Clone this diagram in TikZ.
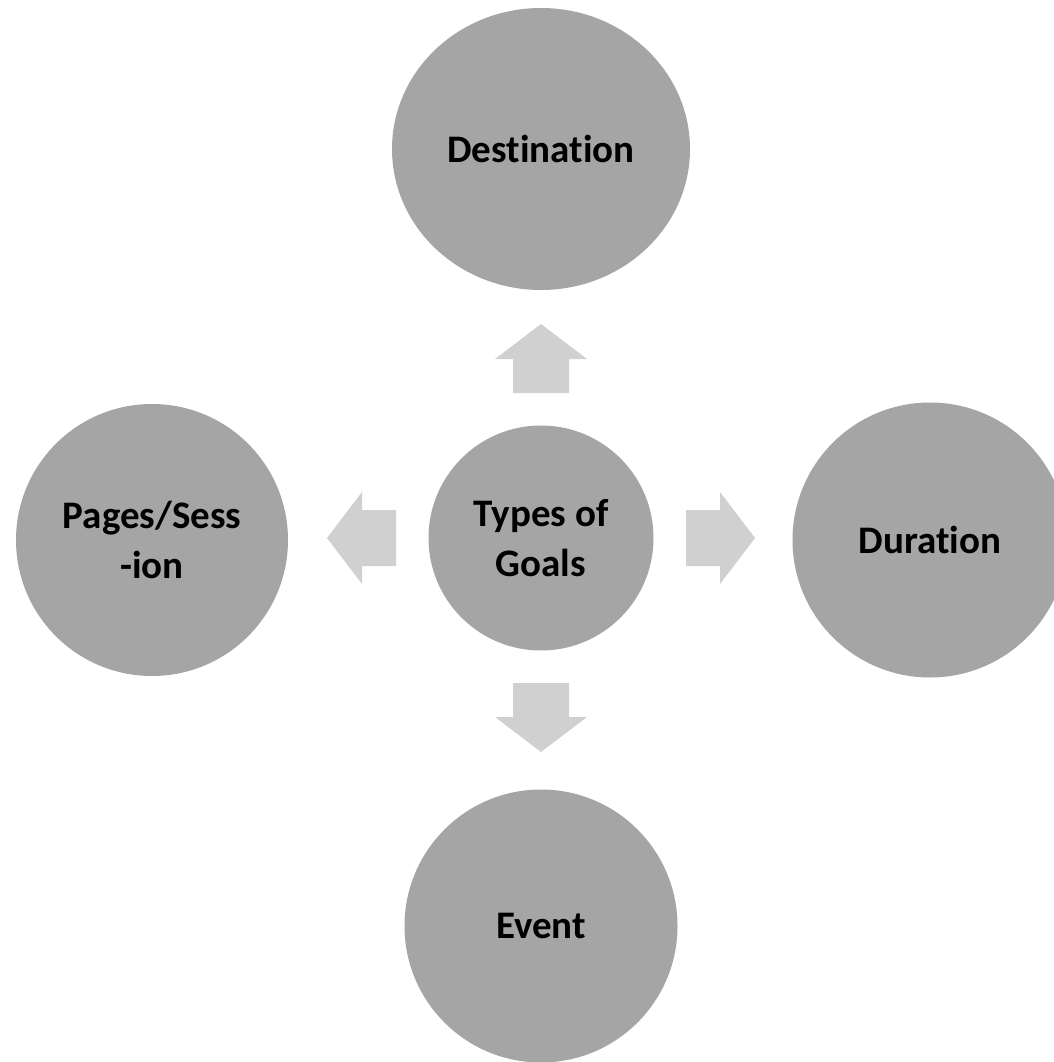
\documentclass[tikz,border=0pt]{standalone}
\usepackage{fontspec}
\setmainfont{Carlito}[Ligatures=NoCommon]
\usepackage{xcolor}
\usetikzlibrary{shapes.geometric, calc}

\definecolor{goalgray}{HTML}{A5A5A5}
\definecolor{arrowgray}{HTML}{D0D0D0}

\tikzset{
    goal/.style={circle, fill=goalgray, inner sep=0pt, align=center,
        font=\fontsize{39}{50}\selectfont\bfseries},
    blockarrow/.style={fill=arrowgray, draw=none}
}

\begin{document}
\begin{tikzpicture}[x=1pt, y=-1pt]
    \useasboundingbox[fill=white] (0,0) rectangle (1053,1062);

    % Centre circle
    \node[goal, minimum size=225pt] (hub) at (541,538) {Types of\\Goals};

    % Outer circles
    \node[goal, ellipse, minimum width=298pt, minimum height=282pt] (dest) at (541,149) {Destination};
    \node[goal, minimum size=272pt] (pages) at (152,540) {Pages/Sess\\-ion};
    \node[goal, minimum size=275pt] (dur) at (930,540) {Duration};
    \node[goal, minimum size=273pt] (event) at (541,926) {Event};

    % Block arrows out of the centre
    \foreach \ang in {0,90,180,270}
        \fill[blockarrow, shift={(hub.center)}, rotate=\ang]
            (145,-28) -- (179,-28) -- (179,-46) -- (214,0)
            -- (179,46) -- (179,28) -- (145,28) -- cycle;
\end{tikzpicture}
\end{document}
